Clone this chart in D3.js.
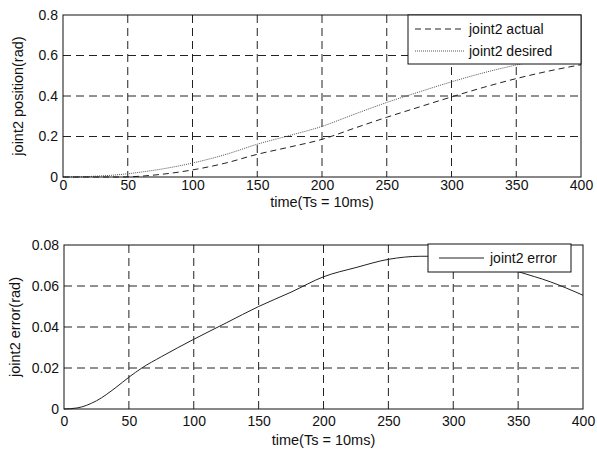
<!DOCTYPE html>
<html><head><meta charset="utf-8">
<script src="https://cdn.jsdelivr.net/npm/d3@7"></script>
<style>
body{margin:0;background:#fff;}
svg text{font-family:"Liberation Sans",Arial,sans-serif;fill:#111;}
</style></head>
<body><svg id="c" width="597" height="454"></svg>
<script>
const times   = [0,10,25,40,50,60,75,100,125,150,175,200,225,250,275,300,325,350,375,400];
const desired = [0,0.0005,0.004,0.010,0.016,0.024,0.038,0.069,0.11,0.162,0.205,0.25,0.31,0.368,0.42,0.47,0.515,0.553,0.585,0.61];
const actual  = [0,0,0,0,0.0005,0.004,0.0125,0.035,0.068,0.112,0.148,0.186,0.241,0.295,0.3455,0.3955,0.443,0.486,0.523,0.5545];
const errorV  = [0,0.0005,0.004,0.0105,0.0155,0.020,0.0255,0.034,0.042,0.050,0.057,0.0645,0.069,0.073,0.0745,0.0745,0.072,0.067,0.062,0.0555];
const xTicks = [0,50,100,150,200,250,300,350,400];
const yTicksTop = [0,0.2,0.4,0.6,0.8];
const yTicksBot = [0,0.02,0.04,0.06,0.08];
const xLabel = "time(Ts = 10ms)";

const svg = d3.select("#c");

function panel(o){
  const x = d3.scaleLinear().domain([0,400]).range([o.left,o.right]);
  const y = d3.scaleLinear().domain(o.ydom).range([o.bottom,o.top]);
  const g = svg.append("g");
  g.selectAll(".gx").data(o.xTicks.slice(1,-1)).join("line")
    .attr("x1",d=>x(d)).attr("x2",d=>x(d)).attr("y1",o.top).attr("y2",o.bottom)
    .attr("stroke","#222").attr("stroke-width",1).attr("stroke-dasharray","8,5");
  g.selectAll(".gy").data(o.yTicks.slice(1,-1)).join("line")
    .attr("y1",d=>y(d)).attr("y2",d=>y(d)).attr("x1",o.left).attr("x2",o.right)
    .attr("stroke","#222").attr("stroke-width",1).attr("stroke-dasharray","8,5");
  o.series.forEach(s=>{
    const line = d3.line().x((d,i)=>x(times[i])).y(d=>y(d)).curve(d3.curveMonotoneX);
    g.append("path").datum(s.values).attr("d",line).attr("fill","none")
      .attr("stroke",s.color).attr("stroke-width",1).attr("stroke-dasharray",s.dash||null);
  });
  g.append("rect").attr("x",o.left).attr("y",o.top).attr("width",o.right-o.left).attr("height",o.bottom-o.top)
    .attr("fill","none").attr("stroke","#111").attr("stroke-width",1);
  const xa = d3.axisBottom(x).tickValues(o.xTicks).tickSize(0).tickPadding(o.xPad).tickFormat(d3.format("d"));
  const gx = g.append("g").attr("transform",`translate(0,${o.bottom})`).call(xa);
  gx.select(".domain").remove();
  gx.selectAll("text").attr("font-size",14).attr("font-family","Liberation Sans, Arial, sans-serif").attr("fill","#111");
  const ya = d3.axisLeft(y).tickValues(o.yTicks).tickSize(0).tickPadding(5).tickFormat(d=>d===0?"0":String(+d.toFixed(2)));
  const gy = g.append("g").attr("transform",`translate(${o.left},0)`).call(ya);
  gy.select(".domain").remove();
  gy.selectAll("text").attr("font-size",14).attr("font-family","Liberation Sans, Arial, sans-serif").attr("fill","#111");
  g.append("text").attr("x",(o.left+o.right)/2).attr("y",o.bottom+o.xlabDy).attr("text-anchor","middle")
    .attr("font-size",14.5).text(xLabel);
  g.append("text").attr("transform",`translate(${o.ylabX},${(o.top+o.bottom)/2}) rotate(-90)`)
    .attr("text-anchor","middle").attr("font-size",14.5).text(o.ylabel);
  const L = o.legend;
  g.append("rect").attr("x",L.x).attr("y",L.y).attr("width",L.w).attr("height",L.h)
    .attr("fill","#fff").attr("stroke","#111").attr("stroke-width",1);
  L.items.forEach((it,i)=>{
    const cy = L.y + L.first + i*L.step;
    g.append("line").attr("x1",L.x+L.lx1).attr("x2",L.x+L.lx2).attr("y1",cy).attr("y2",cy)
      .attr("stroke",it.color).attr("stroke-width",1).attr("stroke-dasharray",it.dash||null);
    g.append("text").attr("x",L.x+L.tx).attr("y",cy+5).attr("font-size",14).text(it.name);
  });
}

panel({left:63,right:581,top:15,bottom:177,ydom:[0,0.8],xTicks:xTicks,yTicks:yTicksTop,
  ylabel:"joint2 position(rad)",ylabX:23,xlabDy:30,xPad:3,
  series:[{values:actual,color:"#222",dash:"6,4"},{values:desired,color:"#555",dash:"1,1"}],
  legend:{x:408,y:15,w:173,h:49,first:14,step:22,lx1:7,lx2:56,tx:61,
    items:[{name:"joint2 actual",color:"#222",dash:"6,4"},{name:"joint2 desired",color:"#555",dash:"1,1"}]}
});
panel({left:64,right:583,top:245,bottom:409,ydom:[0,0.08],xTicks:xTicks,yTicks:yTicksBot,
  ylabel:"joint2 error(rad)",ylabX:20,xlabDy:36,xPad:7,
  series:[{values:errorV,color:"#222"}],
  legend:{x:428,y:244,w:143,h:28,first:14,step:22,lx1:11,lx2:56,tx:62,
    items:[{name:"joint2 error",color:"#222"}]}
});
</script></body></html>
